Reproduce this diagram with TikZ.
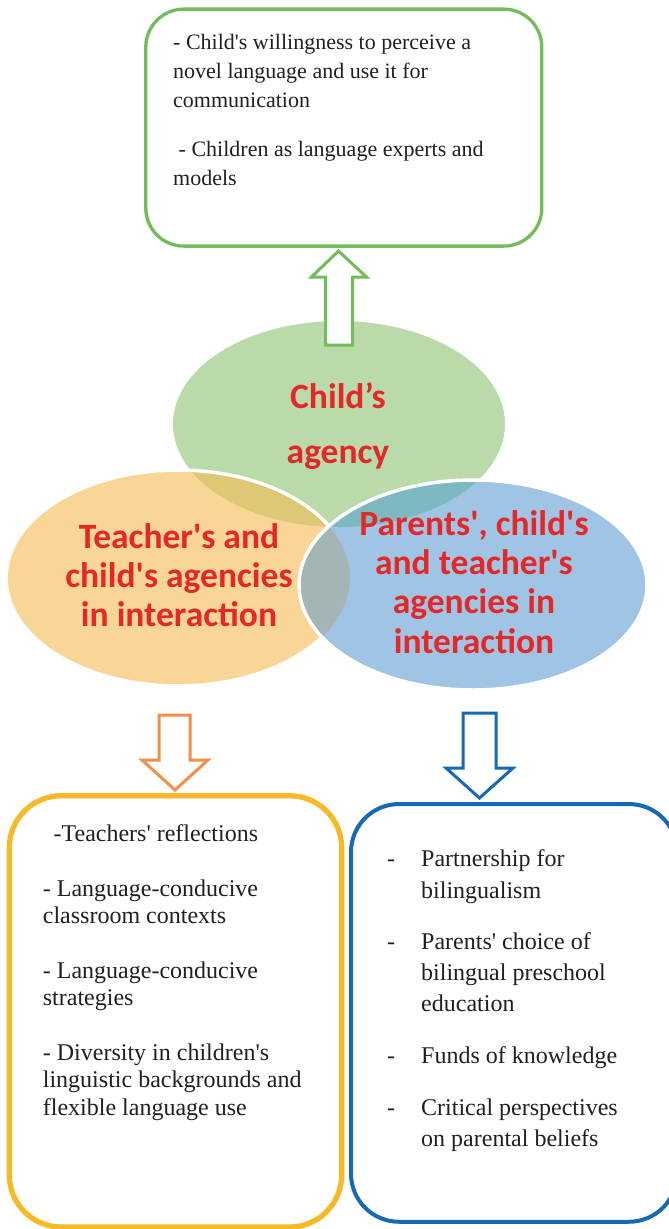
\documentclass[tikz,border=0pt]{standalone}
\usepackage{fontspec}
\setmainfont{Liberation Serif}
\newfontfamily\headfont{Carlito}
\usetikzlibrary{calc}

\definecolor{ink}{RGB}{35,31,32}
\definecolor{headred}{RGB}{228,39,39}
\definecolor{greenline}{RGB}{114,188,90}
\definecolor{orangeline}{RGB}{240,144,74}
\definecolor{yellowline}{RGB}{246,185,40}
\definecolor{blueline}{RGB}{22,105,178}
\definecolor{greenfill}{RGB}{187,218,170}
\definecolor{orangefill}{RGB}{249,214,150}
\definecolor{bluefill}{RGB}{159,196,228}
\definecolor{olivefill}{RGB}{220,200,117}
\definecolor{tealfill}{RGB}{126,185,194}
\definecolor{greyfill}{RGB}{163,182,181}

\newcommand\apos{\textquotesingle}
% left-aligned block whose baseline is that of its first line
\newcommand\leftblock[3]{\parbox[t]{320pt}{\fontsize{#1}{#2}\selectfont\raggedright #3}}
% centred block whose baseline is that of its first line
\newcommand\midblock[3]{\parbox[t]{320pt}{\fontsize{#1}{#2}\selectfont\centering #3}}
% dash hanging to the left of a list item
\newcommand\itemdash{\leavevmode\llap{-\hspace{26.2pt}}}

% the three agency ellipses
\def\greenell{(339,424) ellipse [x radius=166, y radius=103]}
\def\orangeell{(178,578) ellipse [x radius=172, y radius=108]}
\def\blueell{(473,585) ellipse [x radius=174, y radius=105]}

\tikzset{
  listbox/.style={draw=#1, inner sep=0pt, fill=none},
  bodytext/.style={anchor=base west, inner sep=0pt, text=ink},
  headtext/.style={anchor=base, inner sep=0pt, text=headred, font=\headfont\bfseries},
  blockarrow/.style={draw=#1, line width=3pt, fill=white, line join=miter},
}

\begin{document}
\begin{tikzpicture}[x=1pt,y=-1pt]
\useasboundingbox[fill=white] (0,0) rectangle (669,1229);

% ---- ellipses with their overlaps ----
\fill[greenfill] \greenell;
\fill[orangefill] \orangeell;
\begin{scope}
  \clip \orangeell;
  \fill[olivefill] \greenell;
\end{scope}
\draw[white, line width=3.5pt] \orangeell;
\fill[bluefill] \blueell;
\begin{scope}
  \clip \blueell;
  \fill[tealfill] \greenell;
  \fill[greyfill] \orangeell;
\end{scope}
\draw[white, line width=3.5pt] \blueell;

% ---- ellipse captions ----
\node[headtext] (childagency) at (338,408.3)
  {\midblock{35.5}{55}{Child’s\\agency}};
\node[headtext] (teacherchild) at (179,548.3)
  {\midblock{35.5}{39.2}{Teacher\apos s and\\child\apos s agencies\\in interaction}};
\node[headtext] (parentsall) at (474,535)
  {\midblock{35.5}{39.4}{Parents\apos, child\apos s\\and teacher\apos s\\agencies in\\interaction}};

% ---- outcome boxes ----
\node[listbox=greenline, line width=3.3pt, rounded corners=38pt,
      minimum width=396pt, minimum height=237pt] (childbox) at (343.8,127.6) {};
\node[listbox=yellowline, line width=5.3pt, rounded corners=52pt,
      minimum width=332.4pt, minimum height=431.3pt] (teacherbox) at (175.5,1011.4) {};
\node[listbox=blueline, line width=4pt, rounded corners=48pt,
      minimum width=326pt, minimum height=417.7pt] (parentbox) at (514,1012.9) {};

% ---- block arrows ----
\coordinate (uptip) at (338.5,251);
\draw[blockarrow=greenline] (uptip) -- ++(28,26) -- ++(-14,0) -- ++(0,68)
  -- ++(-27,0) -- ++(0,-68) -- ++(-14,0) -- cycle;
\coordinate (lefttip) at (175,790);
\draw[blockarrow=orangeline] (lefttip) -- ++(33,-30) -- ++(-18,0) -- ++(0,-45)
  -- ++(-31,0) -- ++(0,45) -- ++(-17,0) -- cycle;
\coordinate (righttip) at (479.5,798);
\draw[blockarrow=blueline] (righttip) -- ++(33.5,-30) -- ++(-17,0) -- ++(0,-55)
  -- ++(-33,0) -- ++(0,55) -- ++(-17,0) -- cycle;

% ---- text of the top box ----
\node[bodytext] (cw) at (173,49.3)
  {\leftblock{22}{29}{- Child\apos s willingness to perceive a\\novel language and use it for\\communication}};
\node[bodytext] (ce) at (173,156)
  {\leftblock{22}{29}{\hspace*{5.5pt}- Children as language experts and\\models}};

% ---- text of the teacher box ----
\node[bodytext] (tr) at (53.4,841.7)
  {\leftblock{24}{27}{-Teachers\apos{} reflections}};
\node[bodytext] (tc) at (42.7,896.7)
  {\leftblock{24}{26.7}{- Language-conducive\\classroom contexts}};
\node[bodytext] (ts) at (42.7,978.3)
  {\leftblock{24}{26.7}{- Language-conducive\\strategies}};
\node[bodytext] (td) at (42.7,1060)
  {\leftblock{24}{27.5}{- Diversity in children\apos s\\linguistic backgrounds and\\flexible language use}};

% ---- text of the parent box ----
\node[bodytext] (pp) at (421,866.7)
  {\leftblock{24}{31.7}{\itemdash Partnership for\\bilingualism}};
\node[bodytext] (pc) at (421,949.3)
  {\leftblock{24}{31.2}{\itemdash Parents\apos{} choice of\\bilingual preschool\\education}};
\node[bodytext] (pf) at (421,1063.3)
  {\leftblock{24}{31.7}{\itemdash Funds of knowledge}};
\node[bodytext] (pb) at (421,1115)
  {\leftblock{24}{31.7}{\itemdash Critical perspectives\\on parental beliefs}};
\end{tikzpicture}
\end{document}
